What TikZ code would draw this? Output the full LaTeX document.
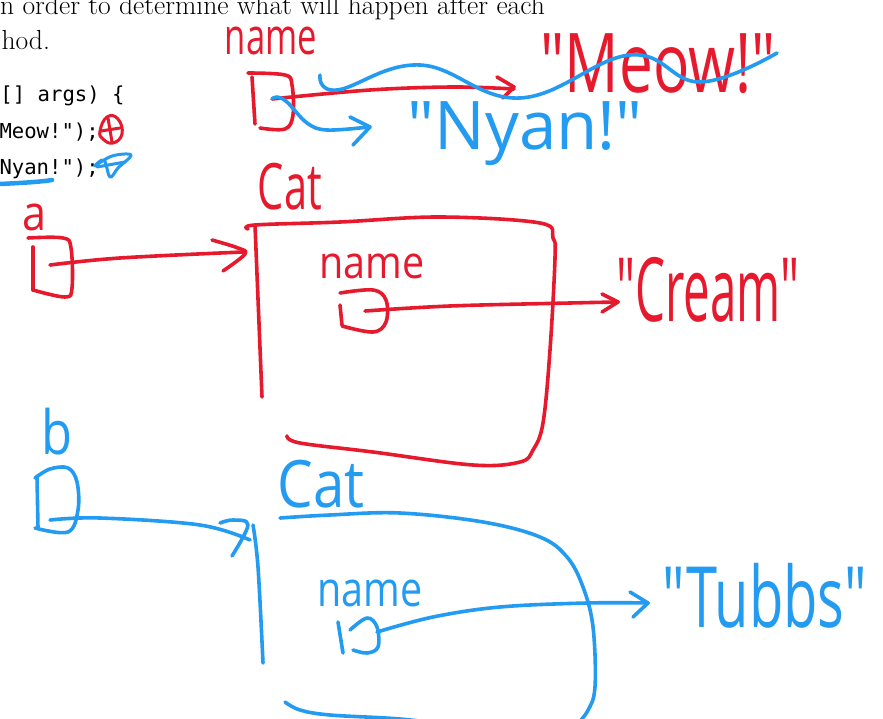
\documentclass[tikz,border=0pt]{standalone}
\usepackage{fontspec}
\usepackage{graphicx}
\newfontfamily\codefont{DejaVu Sans Mono}
\newfontfamily\handfont{Open Sans}
\definecolor{inkred}{RGB}{230,25,45}
\definecolor{inkblue}{RGB}{35,155,240}
\newcommand{\hw}[3]{\resizebox*{#1pt}{#2pt}{\handfont #3}}
\tikzset{
  pen/.style={line width=3.6pt, line cap=round, line join=round},
  redpen/.style={pen, draw=inkred},
  bluepen/.style={pen, draw=inkblue},
  hand/.style={inner sep=0pt, outer sep=0pt, anchor=center},
  printed/.style={inner sep=0pt, outer sep=0pt, text=black},
}
\begin{document}
\begin{tikzpicture}[x=1pt,y=-1pt]
\useasboundingbox (0,0) rectangle (883,719);
\clip (0,0) rectangle (883,719);
\fill[white] (0,0) rectangle (883,719);

% printed page text
\node[printed, anchor=base east] (line1) at (545,15) {\fontsize{27.6}{33}\selectfont in order to determine what will happen after each};
\node[printed, anchor=base east] (line2) at (50,50) {\fontsize{27.6}{33}\selectfont method.};
\node[printed, anchor=base west] (code1) at (0.5,102) {\codefont\fontsize{20.6}{24}\selectfont [] args) \{};
\node[printed, anchor=base west] (code2) at (-0.5,139) {\codefont\fontsize{20.6}{24}\selectfont Meow!");};
\node[printed, anchor=base west] (code3) at (-0.5,175) {\codefont\fontsize{20.6}{24}\selectfont Nyan!");};

% marks next to the code
\draw[bluepen, line width=4.5pt] (0,184) .. controls (20,183) and (40,182) .. (52,180);
\draw[redpen, line width=3pt] plot[smooth cycle, tension=0.8] coordinates {(100,131)(107,117)(118,119)(122,134)(113,143)(103,139)};
\draw[redpen, line width=3pt] (101,131) -- (120,128);
\draw[redpen, line width=3pt] (108,118) -- (112,142);
\draw[bluepen, line width=3pt] plot[smooth cycle, tension=0.6] coordinates {(95,166)(112,156)(131,155)(118,168)(110,177)(104,160)};
\draw[bluepen, line width=3pt] (97,167) -- (125,162);

% static field "name" (top)
\node[hand, text=inkred] (topname) at (271,41) {\hw{92}{28}{name}};
\draw[redpen] plot[smooth, tension=0.6] coordinates {(248,73)(285,75)(292,85)(293,115)(285,129)(260,128)};
\draw[redpen] (252,77) -- (255,124);
\coordinate (topptr) at (272,99);
\node[hand, text=inkred] (meow) at (658,64) {\hw{235}{60}{"Meow!"}};
\node[hand, text=inkblue] (nyan) at (525,134) {\hw{235}{64}{"Nyan!"}};
\coordinate (meowend) at (514,89);
\coordinate (nyanend) at (369,127);
\draw[redpen] plot[smooth, tension=0.6] coordinates {(topptr)(370,90)(453,87)(meowend)};
\draw[redpen] (497,77) -- (514,87) -- (503,98);
\draw[bluepen] plot[smooth, tension=0.6] coordinates {(topptr)(277,97)(287,102)(307,123)(327,130)(nyanend)};
\draw[bluepen] (350,117) -- (370,127) -- (353,145);
% strike-through of "Meow!"
\draw[bluepen] plot[smooth, tension=0.7] coordinates {(320,75)(337,90)(420,65)(520,98)(630,55)(700,82)(777,53)};

% variable a
\node[hand, text=inkred] (alabel) at (35,217) {\hw{24}{27}{a}};
\draw[redpen] plot[smooth, tension=0.6] coordinates {(28,238)(63,238)(71,248)(72,288)(65,297)(33,290)};
\draw[redpen] (33,247) -- (33,290);
\coordinate (aptr) at (50,265);
\coordinate (catonein) at (243,252);
\draw[redpen] plot[smooth, tension=0.6] coordinates {(aptr)(120,258)(catonein)};
\draw[redpen] plot[smooth, tension=0.6] coordinates {(212,240)(238,248)(245,254)(223,271)};

% first Cat object
\node[hand, text=inkred] (catone) at (290,187) {\hw{64}{47}{Cat}};
\draw[redpen] (255,225) -- (262,397);
\draw[redpen] plot[smooth, tension=0.6] coordinates {(248,229)(255,225)(340,222)(440,217)(540,223)(553,238)(555,258)(550,350)(543,423)(533,450)(520,462)(473,465)(373,452)(300,443)(287,436)};
\node[hand, text=inkred] (nameone) at (372,266) {\hw{105}{25}{name}};
\draw[redpen] plot[smooth, tension=0.6] coordinates {(340,293)(373,290)(386,300)(386,322)(373,332)(342,326)};
\draw[redpen] (340,305) -- (342,325);
\coordinate (nameoneptr) at (365,311);
\coordinate (creamend) at (618,302);
\draw[redpen] plot[smooth, tension=0.6] coordinates {(nameoneptr)(450,306)(570,303)(creamend)};
\draw[redpen] (602,294) -- (618,302) -- (602,312);
\node[hand, text=inkred] (cream) at (708,290) {\hw{183}{65}{"Cream"}};

% variable b
\node[hand, text=inkblue] (blabel) at (57,432) {\hw{31}{47}{b}};
\draw[bluepen] plot[smooth, tension=0.6] coordinates {(35,478)(50,469)(68,468)(77,482)(78,510)(68,532)(35,528)};
\draw[bluepen] (37,477) -- (38,528);
\coordinate (bptr) at (50,520);
\coordinate (cattwoin) at (250,540);
\draw[bluepen] plot[smooth, tension=0.6] coordinates {(bptr)(100,518)(200,525)(cattwoin)};
\draw[bluepen] plot[smooth, tension=0.6] coordinates {(220,523)(233,520)(248,525)(232,556)};

% second Cat object
\node[hand, text=inkblue] (cattwo) at (321,484) {\hw{87}{48}{Cat}};
\draw[bluepen] plot[smooth, tension=0.6] coordinates {(253,525)(258,567)(263,663)};
\draw[bluepen] plot[smooth, tension=0.6] coordinates {(280,518)(330,515)(400,513)(483,522)(540,537)(567,557)(583,587)(593,627)(595,687)(587,712)(573,728)};
\draw[bluepen] plot[smooth, tension=0.6] coordinates {(285,702)(300,710)(330,715)(400,719)(460,726)};
\node[hand, text=inkblue] (nametwo) at (370,593) {\hw{105}{27}{name}};
\draw[bluepen] (338,622) -- (343,653);
\draw[bluepen] plot[smooth, tension=0.6] coordinates {(350,630)(367,618)(377,627)(378,647)(367,653)(353,650)};
\coordinate (nametwoptr) at (377,632);
\coordinate (tubbsend) at (648,603);
\draw[bluepen] plot[smooth, tension=0.6] coordinates {(nametwoptr)(433,617)(500,607)(587,603)(tubbsend)};
\draw[bluepen] (630,592) -- (648,603) -- (633,617);
\node[hand, text=inkblue] (tubbs) at (765,596) {\hw{204}{65}{"Tubbs"}};
\end{tikzpicture}
\end{document}
